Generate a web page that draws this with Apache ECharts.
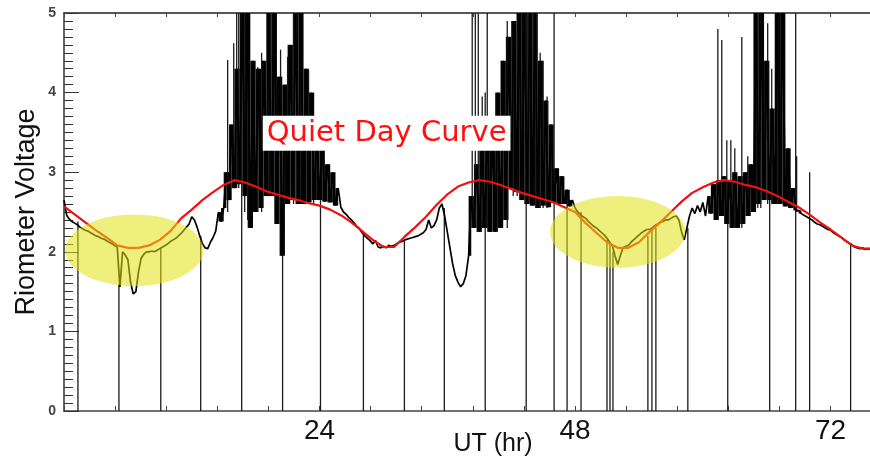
<!DOCTYPE html>
<html>
<head>
<meta charset="utf-8">
<script src="https://cdn.jsdelivr.net/npm/echarts@6/dist/echarts.min.js"></script>
<style>
  html, body { margin: 0; padding: 0; background: #fff; }
  #chart { width: 870px; height: 456px; }
</style>
</head>
<body>
<div id="chart"></div>
<script>
// Riometer output voltage, one sample every quarter hour from 0 UT
const sampleStartHour = 0;
const sampleStepHours = 0.25;
const riometerVolts = [
  2.65, 2.46, 2.41, 2.38,  2.36, 2.34, 2.31, 2.29,  2.27, 2.26, 2.24, 2.22,
  2.20, 2.19, 2.17, 2.16,  2.14, 2.12, 2.10, 2.08,  2.06, 1.56, 2.00, 1.96,
  1.90, 1.62, 1.47, 1.50,  1.75, 1.92, 1.97, 2.00,  2.00, 2.01, 2.00, 2.02,
  2.04, 2.06, 2.08, 2.10,  2.13, 2.15, 2.17, 2.20,  2.23, 2.27, 2.31, 2.35,
  2.44, 2.40, 2.31, 2.20,  2.10, 2.05, 2.04, 2.12,  2.18, 2.26, 2.50, 2.38,
  2.55, 3.00, 2.65, 3.60,  2.80, 4.30, 2.85, 5.00,  2.70, 5.00, 2.30, 4.40,
  2.50, 4.30, 2.55, 4.40,  2.70, 5.00, 2.70, 5.00,  2.35, 4.20, 1.95, 4.10,
  2.60, 4.60, 2.65, 5.00,  2.60, 5.00, 2.60, 4.30,  2.62, 4.00, 2.65, 3.50,
  2.65, 3.40, 2.63, 3.10,  2.62, 3.00, 2.58, 2.80,  2.56, 2.50, 2.47, 2.43,
  2.40, 2.36, 2.32, 2.29,  2.24, 2.20, 2.17, 2.14,  2.10, 2.14, 2.06, 2.05,
  2.07, 2.05, 2.08, 2.07,  2.08, 2.10, 2.12, 2.13,  2.15, 2.16, 2.17, 2.18,
  2.19, 2.20, 2.22, 2.24,  2.28, 2.40, 2.30, 2.33,  2.40, 2.55, 2.60, 2.45,
  2.25, 2.05, 1.85, 1.70,  1.62, 1.56, 1.60, 1.70,  1.95, 2.70, 2.30, 3.10,
  2.25, 3.30, 2.30, 3.60,  2.25, 3.50, 2.25, 4.00,  2.30, 4.40, 2.40, 4.70,
  2.80, 4.90, 2.75, 5.00,  2.65, 5.00, 2.60, 5.00,  2.58, 5.00, 2.55, 4.40,
  2.58, 3.90, 2.56, 3.60,  2.62, 3.05, 2.60, 2.95,  2.60, 2.78, 2.57, 2.65,
  2.55, 2.50, 2.47, 2.44,  2.42, 2.38, 2.35, 2.32,  2.30, 2.27, 2.24, 2.21,
  2.17, 2.12, 2.08, 1.95,  1.84, 1.95, 2.05, 2.07,  2.08, 2.12, 2.15, 2.18,
  2.21, 2.24, 2.26, 2.28,  2.28, 2.30, 2.33, 2.35,  2.37, 2.38, 2.40, 2.40,
  2.42, 2.44, 2.45, 2.40,  2.25, 2.15, 2.30, 2.45,  2.55, 2.48, 2.58, 2.50,
  2.62, 2.45, 2.70, 2.48,  2.85, 2.40, 2.90, 2.45,  2.95, 2.35, 2.90, 2.30,
  3.00, 2.30, 2.95, 2.35,  3.00, 2.45, 3.10, 2.50,  5.00, 2.60, 5.00, 2.65,
  4.40, 2.65, 3.80, 2.60,  5.00, 2.60, 5.00, 2.57,  3.30, 2.55, 2.80, 2.52,
  2.52, 2.48, 2.46, 2.44,  2.42, 2.40, 2.37, 2.35,  2.34, 2.32, 2.30, 2.28,
  2.27, 2.24, 2.22, 2.20,  2.18, 2.15, 2.13, 2.11,  2.09, 2.06, 2.05, 2.04,
  2.05, 2.03, 2.04, 2.03
];

// Intervals of strong scintillation, where the trace is densely filled: [startHour, endHour]
const burstIntervals = [[14.5, 25.5], [38.0, 47.5], [60.5, 69.0]];

// Quiet day curve, hourly values from 0 UT
const quietStepHours = 1;
const quietDayVolts = [
  2.57, 2.47, 2.37, 2.27, 2.18, 2.08, 2.05, 2.05, 2.08, 2.15, 2.26, 2.42,
  2.53, 2.65, 2.75, 2.84, 2.90, 2.87, 2.82, 2.76, 2.72, 2.68, 2.65, 2.61,
  2.58, 2.53, 2.46, 2.37, 2.26, 2.15, 2.06, 2.06, 2.19, 2.31, 2.44, 2.59,
  2.72, 2.82, 2.87, 2.90, 2.88, 2.84, 2.79, 2.74, 2.70, 2.66, 2.62, 2.56,
  2.50, 2.36, 2.24, 2.12, 2.05, 2.05, 2.12, 2.25, 2.37, 2.50, 2.63, 2.74,
  2.81, 2.87, 2.90, 2.88, 2.84, 2.81, 2.76, 2.70, 2.63, 2.56, 2.47, 2.37,
  2.28, 2.18, 2.08, 2.04, 2.04
];

// Brief excursions in the record: [hour, lowVolts, highVolts]
const noiseSpikes = [
  [15.37, 2.5, 4.41], [15.94, 2.8, 4.62], [16.22, 2.8, 5.0], [16.41, 2.8, 5.0],
  [16.97, 2.5, 5.0], [17.25, 2.4, 4.66], [18.19, 2.5, 4.32], [18.56, 2.5, 4.5],
  [19.22, 2.7, 5.0], [19.41, 2.7, 5.0], [20.34, 2.6, 4.54], [21.0, 2.6, 4.45],
  [21.56, 2.6, 5.0], [21.84, 2.6, 5.0], [22.97, 2.6, 4.28], [23.44, 2.6, 3.7],
  [38.34, 2.4, 5.0], [38.63, 2.4, 5.0], [38.91, 2.4, 5.0], [39.28, 2.4, 3.95],
  [39.75, 2.3, 5.0], [41.63, 2.3, 4.9], [42.19, 2.7, 4.75], [42.56, 2.7, 4.75],
  [43.31, 2.6, 5.0], [43.59, 2.6, 5.0], [44.06, 2.6, 5.0], [44.34, 2.6, 5.0],
  [44.72, 2.55, 4.5], [45.0, 2.55, 4.4], [45.37, 2.55, 3.95],
  [61.41, 2.5, 4.8], [61.78, 2.5, 4.66], [62.25, 2.4, 3.4], [62.63, 2.3, 3.4],
  [63.0, 2.3, 3.3], [63.66, 2.3, 4.7], [64.22, 2.5, 3.2], [65.16, 2.55, 5.0],
  [65.44, 2.55, 5.0], [66.09, 2.6, 4.87], [66.47, 2.6, 4.3], [67.03, 2.6, 5.0],
  [67.31, 2.6, 5.0], [68.81, 2.5, 3.2]
];

// Signal dropouts down to zero: [hour, lowVolts, highVolts]
const dropouts = [
  [1.31, 0, 2.38], [5.16, 0, 1.6], [9.09, 0, 2.05], [12.84, 0, 2.2],
  [16.69, 0, 5.0], [20.53, 0, 2.0], [24.09, 0, 2.65], [28.12, 0, 2.22],
  [31.97, 0, 2.14], [35.72, 0, 2.55], [39.56, 0, 4.0], [43.41, 0, 5.0],
  [46.03, 0, 5.0], [47.25, 0, 2.65], [48.56, 0, 2.5], [51.0, 0, 2.15],
  [51.28, 0, 2.12], [51.56, 0, 2.0], [54.84, 0, 2.2], [55.22, 0, 2.28],
  [55.59, 0, 2.3], [58.59, 0, 2.3], [62.34, 0, 2.6], [66.28, 0, 2.7],
  [68.72, 0, 5.0], [70.03, 0, 3.0], [73.88, 0, 2.1]
];

// Highlighted absorption intervals: [centreHour, centreVolts, halfWidthHours, halfHeightVolts]
const highlightEllipses = [
  [6.6, 2.02, 6.5, 0.45],
  [52.0, 2.25, 6.35, 0.45]
];

const curveLabelText = 'Quiet Day Curve';
const curveLabelAt = [30.3, 3.49];
const hourLabels = [24, 48, 72];
const hourTickStep = 4.8;
const hourRange = [0, 75.7];
const voltRange = [0, 5];

const sampleHour = (i) => sampleStartHour + i * sampleStepHours;
const signalData = riometerVolts.map((v, i) => [sampleHour(i), v]);
const quietData = quietDayVolts.map((v, i) => [i * quietStepHours, v]);

// Dense parts of the trace: the range covered between each pair of neighbouring samples
const inBurst = (h) => burstIntervals.some(([a, b]) => h >= a && h <= b);
const burstRanges = [];
for (let i = 0; i + 1 < riometerVolts.length; i++) {
  const h = sampleHour(i);
  if (inBurst(h)) {
    const a = riometerVolts[i], b = riometerVolts[i + 1];
    burstRanges.push([h + sampleStepHours / 2, Math.min(a, b), Math.max(a, b)]);
  }
}

const isLabelHour = (v) => hourLabels.some((h) => Math.abs(h - v) < 1e-6);

function verticalSegment(params, api) {
  const top = api.coord([api.value(0), api.value(2)]);
  const bottom = api.coord([api.value(0), api.value(1)]);
  return {
    type: 'line',
    shape: { x1: top[0], y1: top[1], x2: bottom[0], y2: bottom[1] },
    style: { stroke: '#1a1a1a', lineWidth: 1.3 }
  };
}

function rangeBar(params, api) {
  const top = api.coord([api.value(0), api.value(2)]);
  const bottom = api.coord([api.value(0), api.value(1)]);
  const w = api.size([sampleStepHours, 0])[0];
  return {
    type: 'rect',
    shape: { x: top[0] - w / 2, y: top[1], width: w, height: Math.max(1, bottom[1] - top[1]) },
    style: { fill: '#050505' }
  };
}

const chart = echarts.init(document.getElementById('chart'), null, { renderer: 'canvas' });
chart.setOption({
  animation: false,
  backgroundColor: '#fff',
  grid: { left: 64, right: 0, top: 13, bottom: 45, containLabel: false, outerBoundsMode: 'none' },
  xAxis: [
    {
      type: 'value',
      position: 'bottom',
      min: hourRange[0],
      max: hourRange[1],
      interval: hourTickStep,
      offset: 4,
      axisLine: { show: true, lineStyle: { color: '#444', width: 1.5 } },
      axisTick: { show: true, inside: true, length: 5, lineStyle: { color: '#444' } },
      splitLine: { show: false },
      axisLabel: {
        margin: 2,
        color: '#111',
        fontSize: 28,
        fontFamily: "'Liberation Sans', Arial, sans-serif",
        formatter: (v) => (isLabelHour(v) ? String(Math.round(v)) : ''),
        showMaxLabel: false
      },
      name: 'UT (hr)',
      nameLocation: 'middle',
      nameGap: 17,
      nameMoveOverlap: false,
      nameTextStyle: {
        color: '#111',
        fontSize: 25,
        fontFamily: "'Liberation Sans', Arial, sans-serif",
        padding: [0, 0, 0, 52]
      }
    },
    {
      type: 'value',
      position: 'top',
      min: hourRange[0],
      max: hourRange[1],
      interval: hourTickStep,
      axisLine: { show: true, lineStyle: { color: '#222', width: 1.5 } },
      axisTick: { show: true, inside: true, length: 4, lineStyle: { color: '#444' } },
      axisLabel: { show: false },
      splitLine: { show: false }
    }
  ],
  yAxis: {
    type: 'value',
    min: voltRange[0],
    max: voltRange[1],
    interval: 1,
    axisLine: { show: true, lineStyle: { color: '#333', width: 1.5 } },
    axisTick: { show: true, inside: true, length: 15, lineStyle: { color: '#333' } },
    minorTick: { show: true, splitNumber: 10, length: 9, lineStyle: { color: '#333' } },
    splitLine: { show: false },
    axisLabel: {
      margin: 8,
      color: '#444',
      fontSize: 14,
      fontWeight: 'bold',
      fontFamily: "'Liberation Sans', Arial, sans-serif"
    },
    name: 'Riometer Voltage',
    nameLocation: 'middle',
    nameGap: 24,
    nameMoveOverlap: false,
    nameTextStyle: {
      color: '#111',
      fontSize: 27,
      fontFamily: "'Liberation Sans', Arial, sans-serif"
    }
  },
  series: [
    {
      name: 'Riometer',
      type: 'line',
      data: signalData,
      showSymbol: false,
      sampling: null,
      lineStyle: { color: '#000', width: 1.7 },
      z: 2
    },
    {
      name: 'Scintillation',
      type: 'custom',
      data: burstRanges,
      encode: { x: 0, y: [1, 2] },
      renderItem: rangeBar,
      clip: true,
      z: 2
    },
    {
      name: 'Spikes',
      type: 'custom',
      data: noiseSpikes.concat(dropouts),
      encode: { x: 0, y: [1, 2] },
      renderItem: verticalSegment,
      clip: true,
      z: 2
    },
    {
      name: 'Quiet Day Curve',
      type: 'line',
      data: quietData,
      showSymbol: false,
      lineStyle: { color: '#f01010', width: 2.2 },
      z: 3
    },
    {
      name: 'Highlights',
      type: 'custom',
      data: highlightEllipses,
      encode: { x: 0, y: 1 },
      renderItem: (params, api) => {
        const c = api.coord([api.value(0), api.value(1)]);
        const e = api.coord([api.value(0) + api.value(2), api.value(1) + api.value(3)]);
        return {
          type: 'ellipse',
          shape: { cx: c[0], cy: c[1], rx: Math.abs(e[0] - c[0]), ry: Math.abs(e[1] - c[1]) },
          style: { fill: 'rgba(225,225,20,0.55)' }
        };
      },
      clip: true,
      z: 4
    },
    {
      name: 'Curve label',
      type: 'custom',
      data: [curveLabelAt],
      encode: { x: 0, y: 1 },
      renderItem: (params, api) => {
        const p = api.coord([api.value(0), api.value(1)]);
        return {
          type: 'text',
          x: p[0],
          y: p[1],
          style: {
            text: curveLabelText,
            fill: '#ff1010',
            fontSize: 29,
            fontFamily: "'DejaVu Sans', sans-serif",
            align: 'center',
            verticalAlign: 'middle',
            backgroundColor: '#ffffff',
            padding: [4, 4, 2, 4]
          }
        };
      },
      z: 6
    }
  ]
});
</script>
</body>
</html>
